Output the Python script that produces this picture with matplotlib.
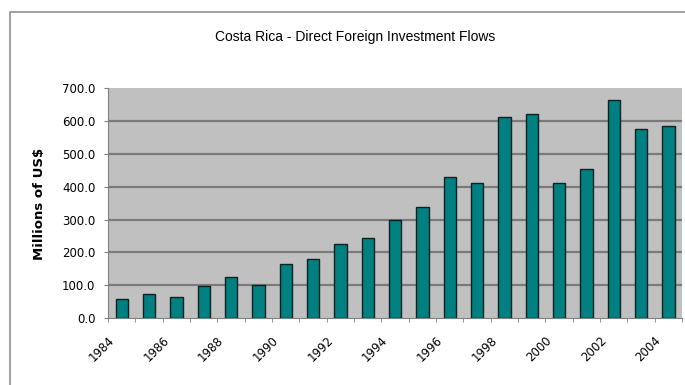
import numpy as np
import matplotlib
matplotlib.use('Agg')
import matplotlib.pyplot as plt
from matplotlib.lines import Line2D
from matplotlib.transforms import ScaledTranslation, blended_transform_factory

plt.rcParams['font.family'] = ['Liberation Sans', 'DejaVu Sans']

years = list(range(1984, 2005))
fdi = [58, 72, 63, 99, 124, 100, 166, 180, 226, 244, 298, 338,
       430, 410, 613, 620, 411, 455, 663, 576, 585]
yticks = [0, 100, 200, 300, 400, 500, 600, 700]

fig = plt.figure(figsize=(6.85, 3.85), dpi=100)
ax = fig.add_axes([0.1577, 0.174, 0.838, 0.597])

x = np.arange(len(years))
ax.set_facecolor('#c0c0c0')
for v in yticks[1:-1]:
    ax.axhline(v, color='#7a7a7a', lw=1.6, zorder=1)
ax.bar(x, fdi, width=0.45, color='#008080', edgecolor='#102020',
       linewidth=1.0, zorder=3)

ax.set_xlim(-0.5, len(years) - 0.5)
ax.set_ylim(0, 700)
ax.set_yticks(yticks)
ax.set_yticklabels(['%.1f' % v for v in yticks], fontsize=8.5,
                   family='DejaVu Sans')

# year labels on every other category, ticks between categories
ax.set_xticks([])
ax.set_xticks(np.arange(-0.5, len(years), 1), minor=True)
ax.tick_params(axis='x', which='minor', length=3, color='#808080')
ax.tick_params(axis='y', length=3, color='#808080', pad=6)
trans = blended_transform_factory(ax.transData, ax.transAxes) + \
    ScaledTranslation(-0.14, -0.16, fig.dpi_scale_trans)
for i in x[::2]:
    ax.text(i, 0, str(years[i]), transform=trans, rotation=45, ha='right',
            va='top', rotation_mode='anchor', fontsize=8.5,
            family='DejaVu Sans')

for s in ['top', 'right']:
    ax.spines[s].set_visible(False)
for s in ['left', 'bottom']:
    ax.spines[s].set_color('#808080')

fig.text(39 / 685, 0.471, 'Millions of US$', rotation=90, ha='center',
         va='center', fontsize=9.5, fontweight='bold', family='DejaVu Sans')
fig.text(0.518, 0.905, 'Costa Rica - Direct Foreign Investment Flows',
         ha='center', va='center', fontsize=10)

# outer chart frame
fx = 10 / 685
fy = 1 - 12 / 385
fig.add_artist(Line2D([fx, fx, 1], [0, fy, fy], color='#909090', lw=1.2,
                      transform=fig.transFigure))

fig.savefig('out.png', dpi=100)
